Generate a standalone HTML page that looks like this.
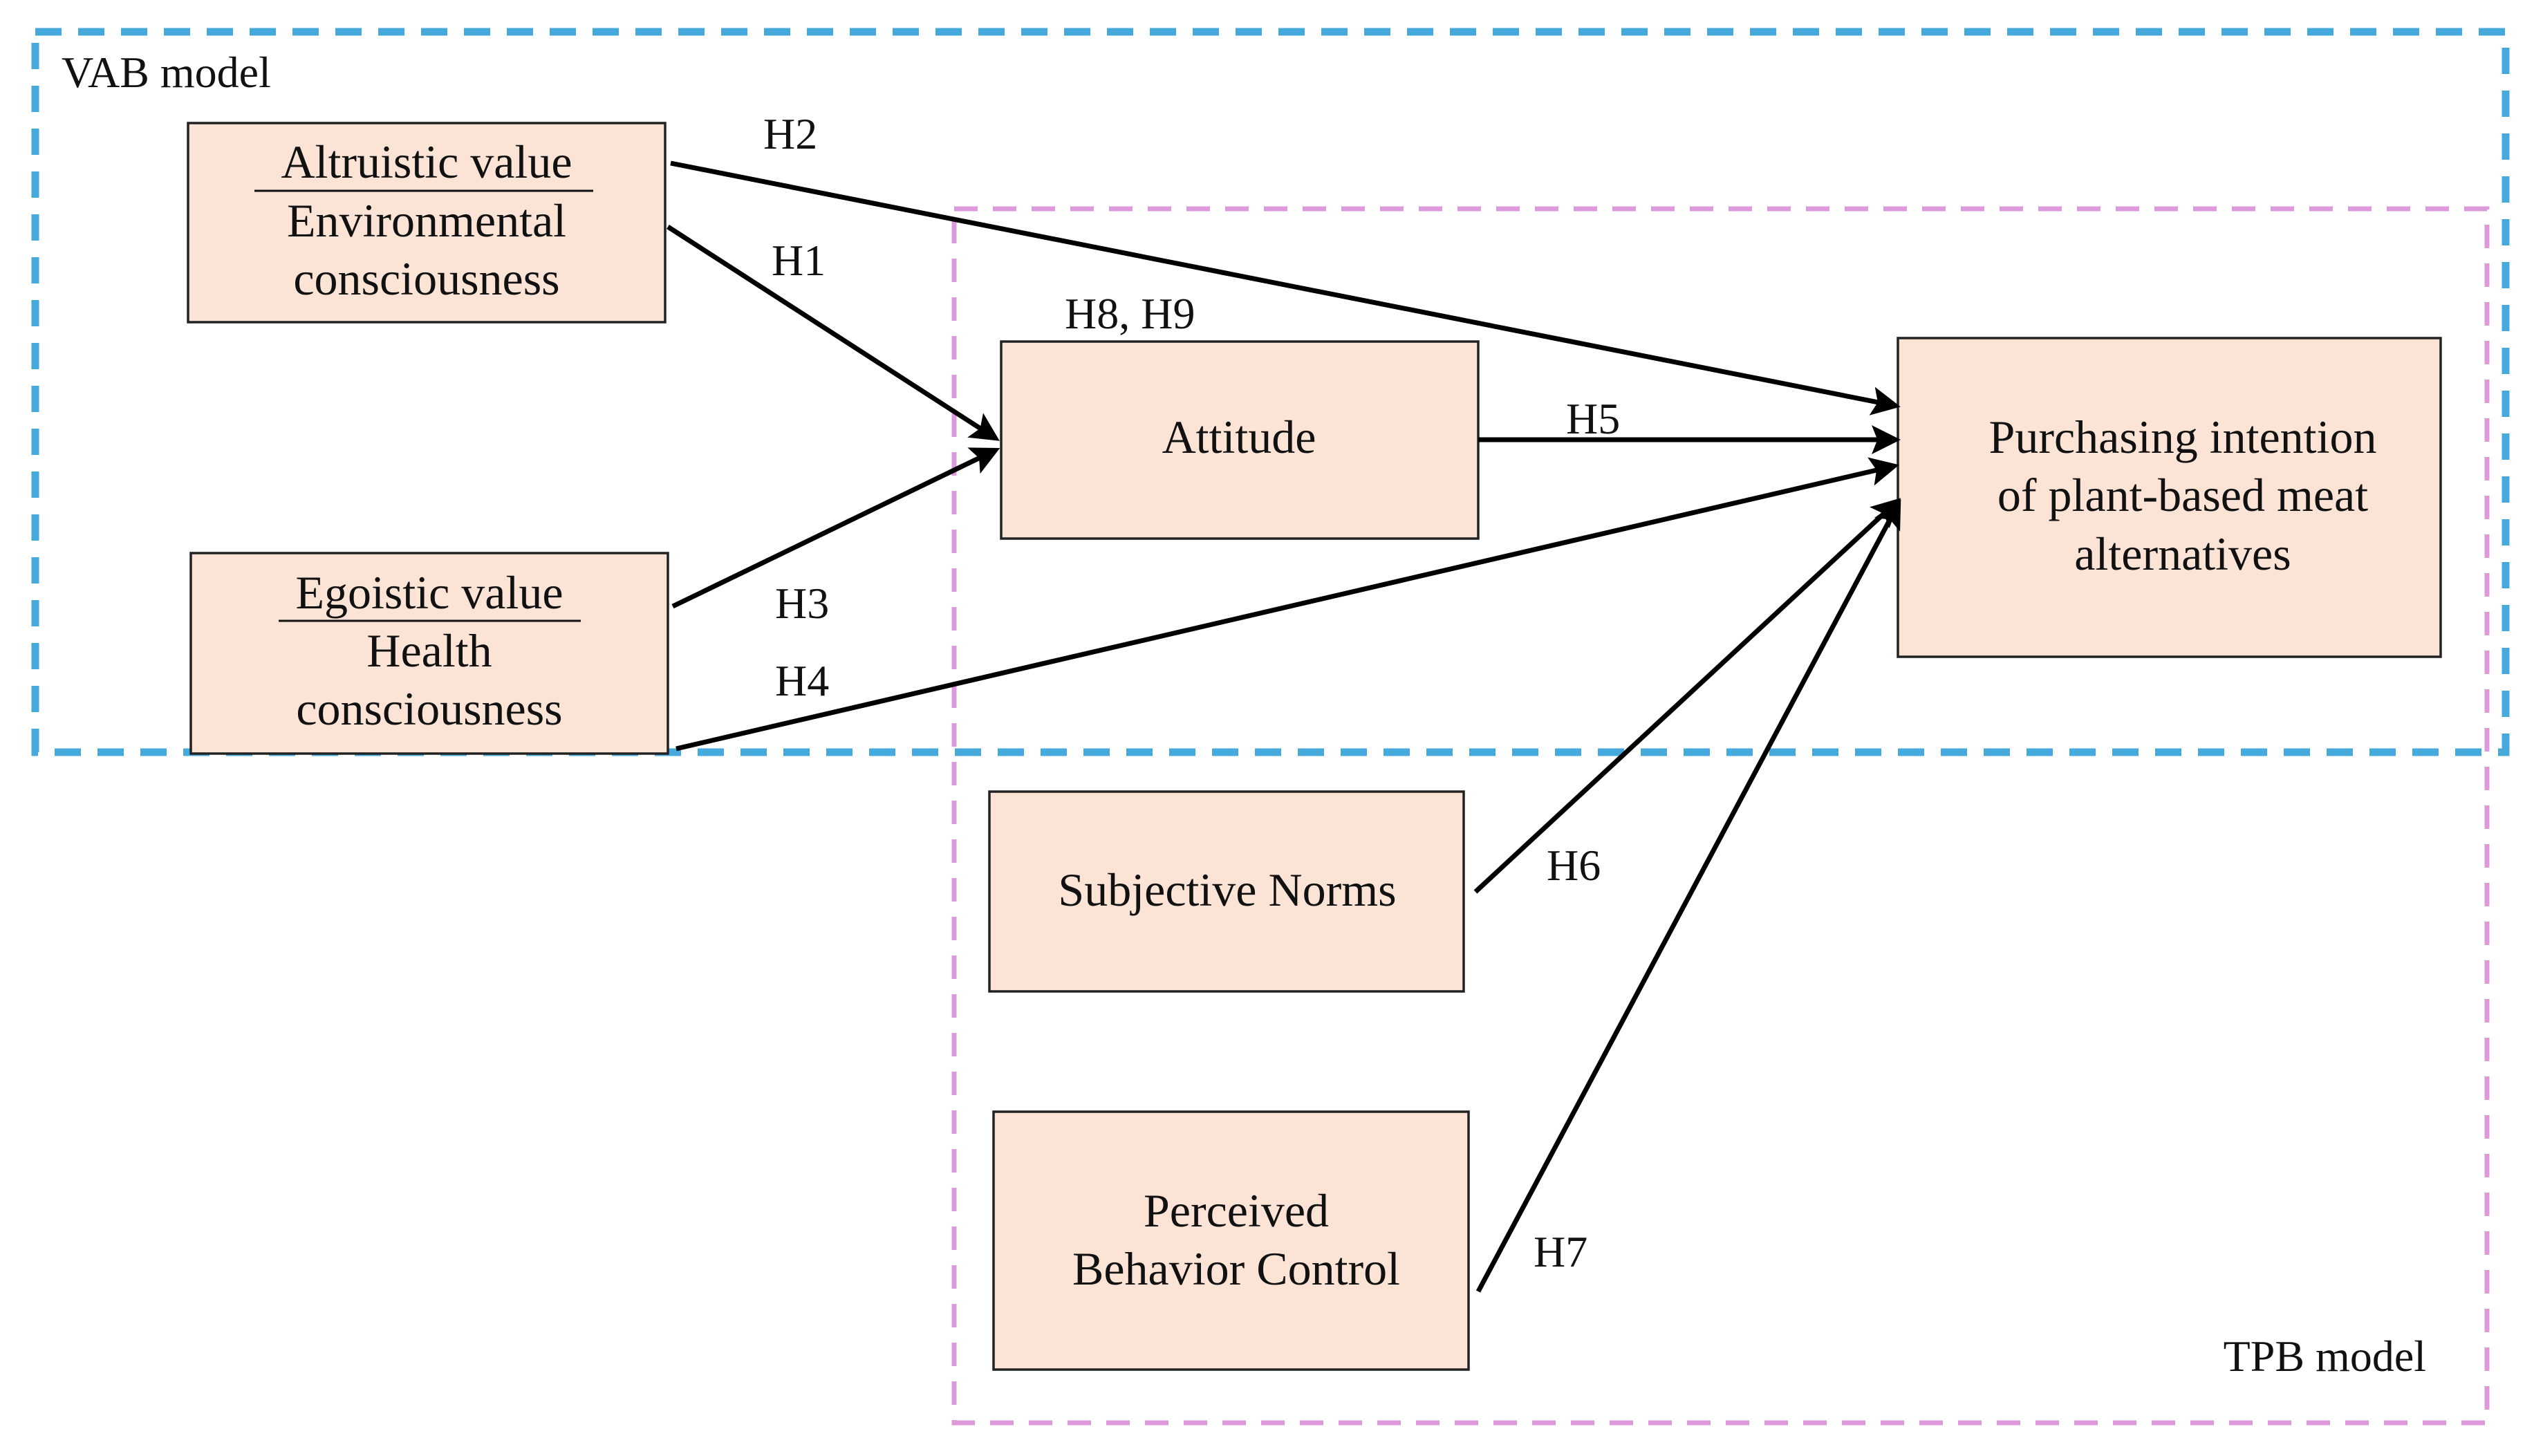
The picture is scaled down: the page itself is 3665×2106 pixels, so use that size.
<!DOCTYPE html>
<html><head><meta charset="utf-8"><style>
html,body{margin:0;padding:0;background:#fff;}
svg{display:block;}
text{font-family:"Liberation Serif",serif;fill:#111;}
</style></head><body>
<svg width="3665" height="2106" viewBox="0 0 3665 2106" xmlns="http://www.w3.org/2000/svg">
<defs>
<marker id="a" markerWidth="6" markerHeight="6" refX="5" refY="3" orient="auto" markerUnits="strokeWidth">
<path d="M0,0 L6,3 L0,6 L1.2,3 z" fill="#000"/>
</marker>
</defs>
<!-- dashed group boxes -->
<rect x="1380" y="302" width="2217" height="1756" fill="none" stroke="#dc9adc" stroke-width="7" stroke-dasharray="34,22"/>
<rect x="51" y="46" width="3573" height="1042" fill="none" stroke="#45a9dc" stroke-width="11" stroke-dasharray="38,24"/>

<!-- boxes -->
<g fill="#fbe4d6" stroke="#222" stroke-width="3.5">
<rect x="272" y="178" width="690" height="288"/>
<rect x="276" y="800" width="690" height="290"/>
<rect x="1448" y="494" width="690" height="285"/>
<rect x="2745" y="489" width="785" height="461"/>
<rect x="1431" y="1145" width="686" height="289"/>
<rect x="1437" y="1608" width="687" height="373"/>
</g>

<!-- arrows -->
<g stroke="#000" stroke-width="7" fill="none" marker-end="url(#a)">
<line x1="970" y1="236" x2="2742" y2="587"/>
<line x1="966" y1="328" x2="1440" y2="634"/>
<line x1="973" y1="877" x2="1440" y2="651"/>
<line x1="2138" y1="636" x2="2742" y2="636"/>
<line x1="978" y1="1083" x2="2740" y2="674"/>
<line x1="2134" y1="1290" x2="2744" y2="725"/>
<line x1="2138" y1="1868" x2="2746" y2="728"/>
</g>

<!-- labels -->
<g font-size="64">
<text x="89" y="126">VAB model</text>
<text x="3509" y="1983" text-anchor="end">TPB model</text>
<text x="1104" y="215">H2</text>
<text x="1116" y="398">H1</text>
<text x="1540" y="475">H8, H9</text>
<text x="2265" y="627">H5</text>
<text x="1121" y="894">H3</text>
<text x="1121" y="1006">H4</text>
<text x="2237" y="1273">H6</text>
<text x="2218" y="1832">H7</text>
</g>

<g font-size="68" text-anchor="middle">
<text x="617" y="257">Altruistic value</text>
<text x="617" y="342">Environmental</text>
<text x="617" y="426">consciousness</text>
<text x="621" y="880">Egoistic value</text>
<text x="621" y="964">Health</text>
<text x="621" y="1048">consciousness</text>
<text x="1792" y="655">Attitude</text>
<text x="3157" y="655">Purchasing intention</text>
<text x="3157" y="739">of plant-based meat</text>
<text x="3157" y="824">alternatives</text>
<text x="1775" y="1310">Subjective Norms</text>
<text x="1788" y="1774">Perceived</text>
<text x="1788" y="1858">Behavior Control</text>
</g>
<line x1="368" y1="276" x2="858" y2="276" stroke="#111" stroke-width="3"/>
<line x1="403" y1="898" x2="840" y2="898" stroke="#111" stroke-width="3"/>
</svg>
</body></html>
